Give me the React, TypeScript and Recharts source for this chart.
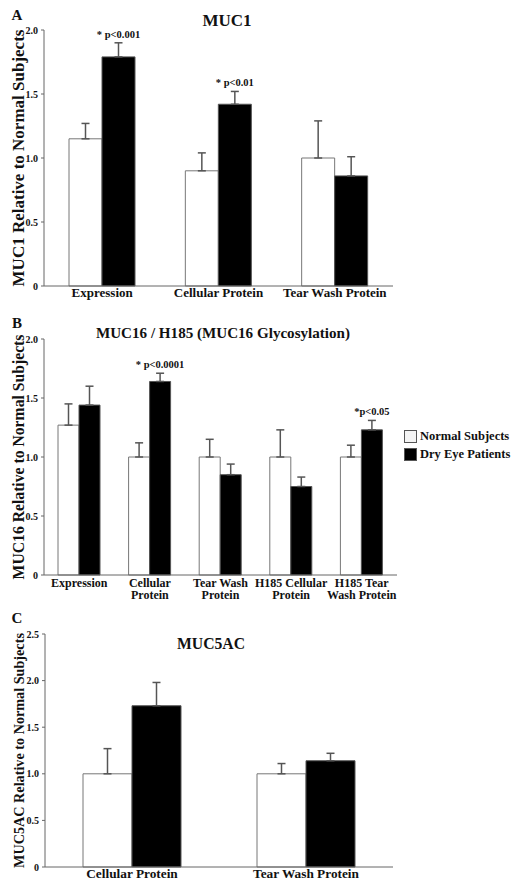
import React from "react";
import { BarChart, Bar, XAxis, YAxis, ErrorBar, LabelList } from "recharts";

const FONT = '"Liberation Serif", "Times New Roman", serif';
const INK = "#111";
const AXIS = "#666";

// Panel A - MUC1
const groupsA = ["Expression", "Cellular Protein", "Tear Wash Protein"];
const normalA = [1.15, 0.9, 1.0];
const normalErrA = [0.12, 0.14, 0.29];
const dryA = [1.79, 1.42, 0.86];
const dryErrA = [0.11, 0.1, 0.15];
const notesA = ["* p<0.001", "* p<0.01", ""];

// Panel B - MUC16 / H185
const groupsB = ["Expression", "Cellular\nProtein", "Tear Wash\nProtein", "H185 Cellular\nProtein", "H185 Tear\nWash Protein"];
const normalB = [1.27, 1.0, 1.0, 1.0, 1.0];
const normalErrB = [0.18, 0.12, 0.15, 0.23, 0.1];
const dryB = [1.44, 1.64, 0.85, 0.75, 1.23];
const dryErrB = [0.16, 0.07, 0.09, 0.08, 0.08];
const notesB = ["", "* p<0.0001", "", "", "*p<0.05"];

// Panel C - MUC5AC
const groupsC = ["Cellular Protein", "Tear Wash Protein"];
const normalC = [1.0, 1.0];
const normalErrC = [0.27, 0.11];
const dryC = [1.73, 1.14];
const dryErrC = [0.25, 0.08];
const notesC = ["", ""];

const ticks2 = [0, 0.5, 1, 1.5, 2];
const ticks25 = [0, 0.5, 1, 1.5, 2, 2.5];

function buildRows(groups: string[], normal: number[], normalErr: number[], dry: number[], dryErr: number[], notes: string[]) {
  return groups.map((g, i) => ({
    group: g,
    normal: normal[i],
    normalErr: [0, normalErr[i]],
    dry: dry[i],
    dryErr: [0, dryErr[i]],
    note: notes[i],
  }));
}

const CatTick = (fs: number) => (props: any) => {
  const { x, y, payload } = props;
  const lines = String(payload.value).split("\n");
  return (
    <text x={x} y={y} textAnchor="middle" fontFamily={FONT} fontWeight="bold" fontSize={fs} fill={INK}>
      {lines.map((l, i) => (
        <tspan key={i} x={x} dy={i === 0 ? "0.71em" : "1.05em"}>{l}</tspan>
      ))}
    </text>
  );
};

const noteContent = (dry: number[], dryErr: number[]) => (props: any) => {
  const { index, value } = props;
  if (!value) return null;
  const vb = props.viewBox || props;
  const top = vb.y - (vb.height * dryErr[index]) / dry[index];
  return (
    <text x={vb.x + vb.width / 2} y={top - 5} textAnchor="middle" fontFamily={FONT} fontWeight="bold" fontSize={10.5} fill={INK}>
      {value}
    </text>
  );
};

const yLabel = (text: string, fs: number) => (props: any) => {
  const vb = props.viewBox;
  const cx = vb.x + 4;
  const cy = vb.y + vb.height / 2;
  return (
    <text x={cx} y={cy} transform={`rotate(-90 ${cx} ${cy})`} textAnchor="middle" dominantBaseline="central"
      fontFamily={FONT} fontWeight="bold" fontSize={fs} fill={INK}>
      {text}
    </text>
  );
};

function Panel(props: any) {
  const { rows, top, height, margin, xHeight, xMargin, barSize, ticks, domain, label, labelSize, catSize, dry, dryErr } = props;
  return (
    <div style={{ position: "absolute", left: 0, top }}>
      <BarChart width={516} height={height} data={rows} margin={margin} barGap={0} barSize={barSize}>
        <XAxis dataKey="group" height={xHeight} stroke={AXIS} tickLine={false} tickSize={0} tickMargin={xMargin}
          interval={0} tick={CatTick(catSize)} />
        <YAxis width={30} domain={domain} ticks={ticks} stroke={AXIS} tickSize={3} tickMargin={3}
          tickFormatter={(v: number) => (v === 0 ? "0" : v.toFixed(1))}
          tick={{ fontFamily: FONT, fontWeight: "bold", fontSize: 10, fill: INK }}
          label={{ content: yLabel(label, labelSize) }} />
        <Bar dataKey="normal" fill="#fff" stroke="#777" strokeWidth={1} isAnimationActive={false}>
          <ErrorBar dataKey="normalErr" width={4} stroke="#555" strokeWidth={1.5} />
        </Bar>
        <Bar dataKey="dry" fill="#000" stroke="#555" strokeWidth={1} isAnimationActive={false}>
          <ErrorBar dataKey="dryErr" width={4} stroke="#555" strokeWidth={1.5} />
          <LabelList dataKey="note" content={noteContent(dry, dryErr)} />
        </Bar>
      </BarChart>
    </div>
  );
}

const centered = (x: number, y: number, fs: number): React.CSSProperties => ({
  position: "absolute", left: x, top: y, transform: "translate(-50%, -50%)", whiteSpace: "nowrap",
  fontFamily: FONT, fontWeight: "bold", fontSize: fs, color: INK, lineHeight: 1,
});

export default function App() {
  return (
    <div style={{ position: "absolute", left: 0, top: 0, width: 516, height: 882, background: "#fff", overflow: "hidden" }}>
      <Panel rows={buildRows(groupsA, normalA, normalErrA, dryA, dryErrA, notesA)} top={0} height={316}
        margin={{ top: 30, right: 123, bottom: 0, left: 14 }} xHeight={30} xMargin={2} barSize={33} ticks={ticks2} domain={[0, 2]}
        label="MUC1 Relative to Normal Subjects" labelSize={17} catSize={13} dry={dryA} dryErr={dryErrA} />
      <Panel rows={buildRows(groupsB, normalB, normalErrB, dryB, dryErrB, notesB)} top={300} height={310}
        margin={{ top: 39, right: 119, bottom: 0, left: 14 }} xHeight={35} xMargin={3} barSize={21} ticks={ticks2} domain={[0, 2]}
        label="MUC16 Relative to Normal Subjects" labelSize={15.7} catSize={12} dry={dryB} dryErr={dryErrB} />
      <Panel rows={buildRows(groupsC, normalC, normalErrC, dryC, dryErrC, notesC)} top={610} height={272}
        margin={{ top: 24, right: 123, bottom: 0, left: 15 }} xHeight={15} xMargin={2} barSize={49} ticks={ticks25} domain={[0, 2.5]}
        label="MUC5AC Relative to Normal Subjects" labelSize={14.2} catSize={13.3} dry={dryC} dryErr={dryErrC} />

      <div style={centered(17, 15, 15)}>A</div>
      <div style={centered(227, 20, 17)}>MUC1</div>
      <div style={centered(17, 323, 15)}>B</div>
      <div style={centered(223, 334, 15.1)}>MUC16 / H185 (MUC16 Glycosylation)</div>
      <div style={centered(17, 618, 15)}>C</div>
      <div style={centered(211, 644, 15.7)}>MUC5AC</div>

      <div style={{ position: "absolute", left: 404, top: 430, width: 11, height: 11, background: "#f4f4f4", border: "1px solid #555" }} />
      <div style={{ ...centered(0, 0, 12.5), transform: "translateY(-50%)", left: 420, top: 436 }}>Normal Subjects</div>
      <div style={{ position: "absolute", left: 404, top: 448, width: 11, height: 11, background: "#000", border: "1px solid #555" }} />
      <div style={{ ...centered(0, 0, 12.5), transform: "translateY(-50%)", left: 420, top: 454 }}>Dry Eye Patients</div>
    </div>
  );
}
